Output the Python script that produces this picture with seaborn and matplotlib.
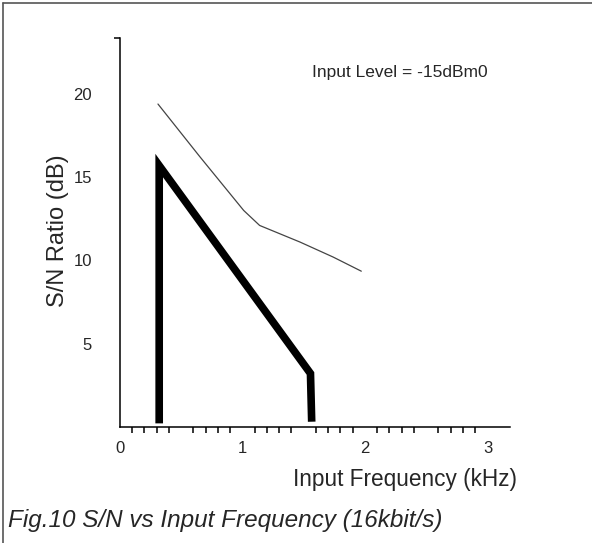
import matplotlib
matplotlib.use('Agg')
import matplotlib.pyplot as plt
import matplotlib.ticker as mticker
from matplotlib.lines import Line2D
import pandas as pd
import seaborn as sns

## data
thin_freq = [0.31, 0.65, 1.01, 1.14, 1.47, 1.74, 1.97]
thin_snr = [19.4, 16.25, 13.0, 12.1, 11.1, 10.2, 9.35]

thick_freq = [0.32, 0.32, 1.555, 1.565]
thick_snr = [0.2, 15.7, 3.2, 0.3]

x_major = [0, 0.5, 1, 1.5, 2, 2.5, 3]
x_minor = [i / 10 for i in range(31)]
y_major = [0, 5, 10, 15, 20]
x_max, y_max = 3.184, 23.37

thin_df = pd.DataFrame({'freq': thin_freq, 'snr': thin_snr})
thick_df = pd.DataFrame({'freq': thick_freq, 'snr': thick_snr})

sns.set_style('white')
plt.rcParams['font.family'] = ['Liberation Sans', 'DejaVu Sans']

fig = plt.figure(figsize=(5.92, 5.43), dpi=100)
ax = fig.add_axes([120 / 592, 1 - 426.7 / 543, 390 / 592, 388.7 / 543])

sns.lineplot(data=thin_df, x='freq', y='snr', sort=False, estimator=None,
             color='#444444', linewidth=0.9, ax=ax)
sns.lineplot(data=thick_df, x='freq', y='snr', sort=False, estimator=None,
             color='black', linewidth=5.5, ax=ax)
ax.lines[-1].set_solid_joinstyle('miter')
ax.lines[-1].set_solid_capstyle('butt')

ax.set_xlim(0, x_max)
ax.set_ylim(0, y_max)
for side in ['top', 'right']:
    ax.spines[side].set_visible(False)
for side in ['left', 'bottom']:
    ax.spines[side].set_linewidth(1.1)
    ax.spines[side].set_color('black')

## ticks
ax.xaxis.set_major_locator(mticker.FixedLocator(x_major))
ax.xaxis.set_minor_locator(mticker.FixedLocator(x_minor))
ax.xaxis.set_major_formatter(mticker.FuncFormatter(
    lambda v, p: '{:d}'.format(int(v)) if float(v).is_integer() else ''))
ax.yaxis.set_major_locator(mticker.FixedLocator(y_major))
ax.yaxis.set_minor_locator(mticker.FixedLocator([y_max]))
ax.yaxis.set_major_formatter(mticker.FuncFormatter(
    lambda v, p: '' if v == 0 else '{:d}'.format(int(v))))

ax.tick_params(axis='x', which='major', direction='out', length=8, width=1.1,
               color='black', pad=2.5, labelsize=12)
ax.tick_params(axis='x', which='minor', direction='out', length=4.3, width=1.1,
               color='black', bottom=True)
ax.tick_params(axis='y', which='major', direction='out', length=12.3, width=1.1,
               color='black', pad=8, labelsize=12)
ax.tick_params(axis='y', which='minor', direction='out', length=4, width=1.1,
               color='black', left=True)

## labels
ax.set_xlabel('Input Frequency (kHz)', fontsize=16.3, loc='right')
ax.xaxis.set_label_coords(1.018, -0.137)
ax.xaxis.label.set_va('center')
ax.set_ylabel('S/N Ratio (dB)', fontsize=17)
ax.yaxis.set_label_coords(-0.159, 0.503)
ax.yaxis.label.set_va('center')

ax.text(1.566, 21.27, 'Input Level = -15dBm0', fontsize=12.5, va='center', ha='left')

fig.text(8 / 592, 1 - 520 / 543, 'Fig.10 S/N vs Input Frequency (16kbit/s)',
         fontsize=17.5, style='italic', va='center', ha='left')

## frame lines (top and left only)
fig.add_artist(Line2D([3 / 592, 1], [1 - 2.5 / 543, 1 - 2.5 / 543],
                      transform=fig.transFigure, color='#555555', linewidth=1.2))
fig.add_artist(Line2D([3 / 592, 3 / 592], [1 - 2.5 / 543, 0],
                      transform=fig.transFigure, color='#555555', linewidth=1.2))

fig.savefig('out.png', dpi=100)
